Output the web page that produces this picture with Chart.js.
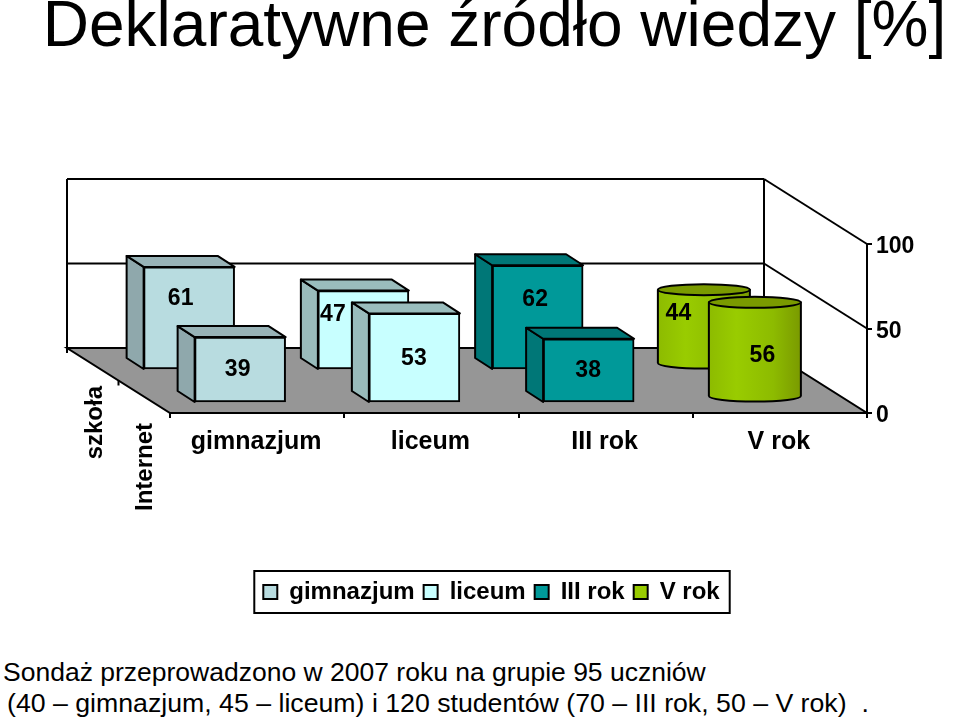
<!DOCTYPE html>
<html>
<head>
<meta charset="utf-8">
<title>Deklaratywne źródło wiedzy</title>
<script src="https://cdn.jsdelivr.net/npm/chart.js@4"></script>
<style>
html, body { margin: 0; padding: 0; background: #fff; }
#wrap { position: relative; width: 959px; height: 721px; overflow: hidden; }
#chart { position: absolute; left: 0; top: 0; }
.note { position: absolute; font: 26.5px/33px "Liberation Sans", Arial, sans-serif; color: #000; white-space: pre; }
</style>
</head>
<body>
<div id="wrap">
  <canvas id="chart" width="959" height="614"></canvas>
  <div class="note" style="left:3px;top:656px">Sondaż przeprowadzono w 2007 roku na grupie 95 uczniów</div>
  <div class="note" style="left:7px;top:687px;font-size:26.7px">(40 – gimnazjum, 45 – liceum) i 120 studentów (70 – III rok, 50 – V rok)  .</div>
</div>
<script>
const categories = ['gimnazjum', 'liceum', 'III rok', 'V rok'];
const depthLabels = ['Internet', 'szkoła'];
const internetValues = [39, 53, 38, 56];
const szkolaValues = [61, 47, 62, 44];
const faceColors = ['#B8DCE0', '#C8FFFF', '#009999', '#99CC00'];
const sideColors = ['#8FA8AC', '#99BBBB', '#007777', '#7A9A00'];
const topColors = ['#98B3B7', '#9ABDBD', '#007777', '#7A9A00'];

// the 3D look: depth of the floor, offset of each row, depth of a box
const floorDx = -103, floorDy = -65;
const rowDx = [-17, -68], rowDy = [-10, -43];
const boxDx = -17, boxDy = -11;
// label nudges, the back row labels were moved by hand in the original
const labelNudge = [
    [[-2, 0], [0, 0], [0, 0], [8, 0]],
    [[-8, -20], [-30, -16], [-2, -18], [-25, -19]]
];
const cylinderIndex = 3;

function line(ctx, x1, y1, x2, y2)
{
    ctx.beginPath();
    ctx.moveTo(x1, y1);
    ctx.lineTo(x2, y2);
    ctx.stroke();
}

function poly(ctx, pts, fill)
{
    ctx.beginPath();
    pts.forEach((p, i) => i ? ctx.lineTo(p[0], p[1]) : ctx.moveTo(p[0], p[1]));
    ctx.closePath();
    ctx.fillStyle = fill;
    ctx.fill();
    ctx.stroke();
}

const room3d = {
    id: 'room3d',
    afterLayout(chart) {
        // title sits a bit right of the legend centre
        chart.titleBlock.left += 3;
        chart.titleBlock.right += 3;
    },
    afterDatasetsUpdate(chart) {
        chart.getSortedVisibleDatasetMetas().forEach((meta) => {
            meta.data.forEach((bar) => {
                bar.x += rowDx[meta.index];
                bar.y += rowDy[meta.index];
                bar.base += rowDy[meta.index];
            });
        });
    },
    beforeDatasetsDraw(chart) {
        const ctx = chart.ctx, y = chart.scales.y, a = chart.chartArea;
        const y0 = y.getPixelForValue(0);
        ctx.save();
        ctx.strokeStyle = '#000';
        ctx.lineWidth = 2;
        poly(ctx, [[a.left + floorDx, y0 + floorDy], [a.right + floorDx, y0 + floorDy], [a.right, y0], [a.left, y0]], '#969696');
        y.ticks.forEach((t) => {
            const py = y.getPixelForValue(t.value);
            if (t.value > 0) {
                line(ctx, a.left + floorDx, py + floorDy, a.right + floorDx, py + floorDy);
                line(ctx, a.right + floorDx, py + floorDy, a.right, py);
            }
        });
        line(ctx, a.left + floorDx, y.getPixelForValue(100) + floorDy, a.left + floorDx, y0 + floorDy);
        line(ctx, a.right + floorDx, y.getPixelForValue(100) + floorDy, a.right + floorDx, y0 + floorDy);
        // depth axis ticks
        [0, 0.5].forEach((f) => {
            const tx = a.left + floorDx * (1 - f) , ty = y0 + floorDy * (1 - f);
            line(ctx, tx, ty, tx, ty + 5);
        });
        ctx.restore();
    },
    afterDatasetDraw(chart, args) {
        const ctx = chart.ctx;
        ctx.save();
        ctx.strokeStyle = '#000';
        ctx.lineWidth = 2;
        ctx.lineJoin = 'round';
        args.meta.data.forEach((bar, i) => {
            const l = bar.x - bar.width / 2, r = bar.x + bar.width / 2;
            if (i === cylinderIndex) {
                const cx = bar.x - 8, rx = 46, ry = 5.5;
                const top = bar.y - 6, bottom = bar.base - 6;
                const g = ctx.createLinearGradient(cx - rx, 0, cx + rx, 0);
                g.addColorStop(0, '#8DBB00');
                g.addColorStop(0.3, '#99CC00');
                g.addColorStop(0.7, '#8DBB00');
                g.addColorStop(1, '#7A9A00');
                ctx.beginPath();
                ctx.moveTo(cx - rx, top);
                ctx.lineTo(cx - rx, bottom);
                ctx.ellipse(cx, bottom, rx, ry, 0, Math.PI, 0, true);
                ctx.lineTo(cx + rx, top);
                ctx.closePath();
                ctx.fillStyle = g;
                ctx.fill();
                ctx.stroke();
                ctx.beginPath();
                ctx.ellipse(cx, top, rx, ry, 0, 0, Math.PI * 2);
                ctx.fillStyle = topColors[i];
                ctx.fill();
                ctx.stroke();
                return;
            }
            poly(ctx, [[l, bar.y], [l, bar.base], [l + boxDx, bar.base + boxDy], [l + boxDx, bar.y + boxDy]], sideColors[i]);
            poly(ctx, [[l, bar.y], [l + boxDx, bar.y + boxDy], [r + boxDx, bar.y + boxDy], [r, bar.y]], topColors[i]);
        });
        ctx.restore();
    },
    afterDatasetsDraw(chart) {
        const ctx = chart.ctx;
        ctx.save();
        ctx.fillStyle = '#000';
        ctx.font = 'bold 23px "Liberation Sans"';
        ctx.textAlign = 'center';
        ctx.textBaseline = 'middle';
        chart.getSortedVisibleDatasetMetas().forEach((meta) => {
            const values = chart.data.datasets[meta.index].data;
            meta.data.forEach((bar, i) => {
                const n = labelNudge[meta.index][i];
                const cx = i === cylinderIndex ? bar.x - 8 : bar.x;
                ctx.fillText(values[i], cx + n[0] - 0.5, (bar.y + bar.base) / 2 + n[1] + 0.5);
            });
        });
        ctx.restore();
    },
    afterDraw(chart) {
        const ctx = chart.ctx, boxes = chart.legend.legendHitBoxes;
        const last = boxes[boxes.length - 1];
        ctx.save();
        // legend frame
        ctx.strokeStyle = '#000';
        ctx.lineWidth = 2;
        ctx.strokeRect(boxes[0].left - 9, boxes[0].top + boxes[0].height / 2 - 21, last.left + last.width + 10 - boxes[0].left + 9, 42);
        // names of the depth axis
        ctx.fillStyle = '#000';
        ctx.font = 'bold 24px "Liberation Sans"';
        ctx.textBaseline = 'middle';
        ctx.textAlign = 'right';
        [[145, 423], [95, 386]].forEach((p, i) => {
            ctx.save();
            ctx.translate(p[0], p[1]);
            ctx.rotate(-Math.PI / 2);
            ctx.fillText(depthLabels[i], 0, 0);
            ctx.restore();
        });
        ctx.restore();
    }
};

Chart.defaults.font.family = '"Liberation Sans", Arial, sans-serif';
Chart.defaults.color = '#000';

const barStyle = {
    grouped: false,
    clip: false,
    barThickness: 91,
    borderSkipped: false,
    backgroundColor: (c) => c.dataIndex === cylinderIndex ? 'rgba(0,0,0,0)' : faceColors[c.dataIndex],
    borderColor: '#000',
    borderWidth: (c) => c.dataIndex === cylinderIndex ? 0 : 2
};

new Chart(document.getElementById('chart'), {
    type: 'bar',
    data: {
        labels: categories,
        datasets: [
            { label: depthLabels[0], data: internetValues, ...barStyle },
            { label: depthLabels[1], data: szkolaValues, ...barStyle }
        ]
    },
    options: {
        responsive: false,
        animation: false,
        layout: { padding: { left: 24, right: 0, top: 0, bottom: 0 } },
        scales: {
            x: {
                afterFit: (s) => { s.height = 158; },
                grid: { drawOnChartArea: false, color: '#000', lineWidth: 2, tickLength: 5 },
                border: { color: '#000', width: 2 },
                ticks: { font: { size: 25, weight: 'bold' }, maxRotation: 0, padding: 9, labelOffset: -1 }
            },
            y: {
                position: 'right',
                min: 0,
                max: 100,
                afterFit: (s) => { s.width = 92; },
                grid: { drawOnChartArea: false, color: '#000', lineWidth: 2, tickLength: 5 },
                border: { color: '#000', width: 2 },
                ticks: { stepSize: 50, font: { size: 23, weight: 'bold' }, padding: 4, labelOffset: 3 }
            },
            depth: {
                type: 'category',
                axis: 'y',
                position: 'left',
                labels: depthLabels,
                afterFit: (s) => { s.width = 146; },
                grid: { display: false },
                border: { display: false },
                ticks: { display: false }
            }
        },
        plugins: {
            title: {
                display: true,
                text: 'Deklaratywne źródło wiedzy [%]',
                font: { size: 64, weight: 'normal', lineHeight: 0.9 },
                padding: { top: 0, bottom: 186.4 }
            },
            legend: {
                position: 'bottom',
                labels: {
                    font: { size: 24, weight: 'bold' },
                    boxWidth: 14,
                    boxHeight: 14,
                    padding: 9,
                    generateLabels: () => categories.map((name, i) => ({
                        text: name,
                        fillStyle: faceColors[i],
                        strokeStyle: '#000',
                        lineWidth: 2,
                        hidden: false
                    }))
                }
            },
            tooltip: { enabled: false }
        }
    },
    plugins: [room3d]
});
</script>
</body>
</html>
